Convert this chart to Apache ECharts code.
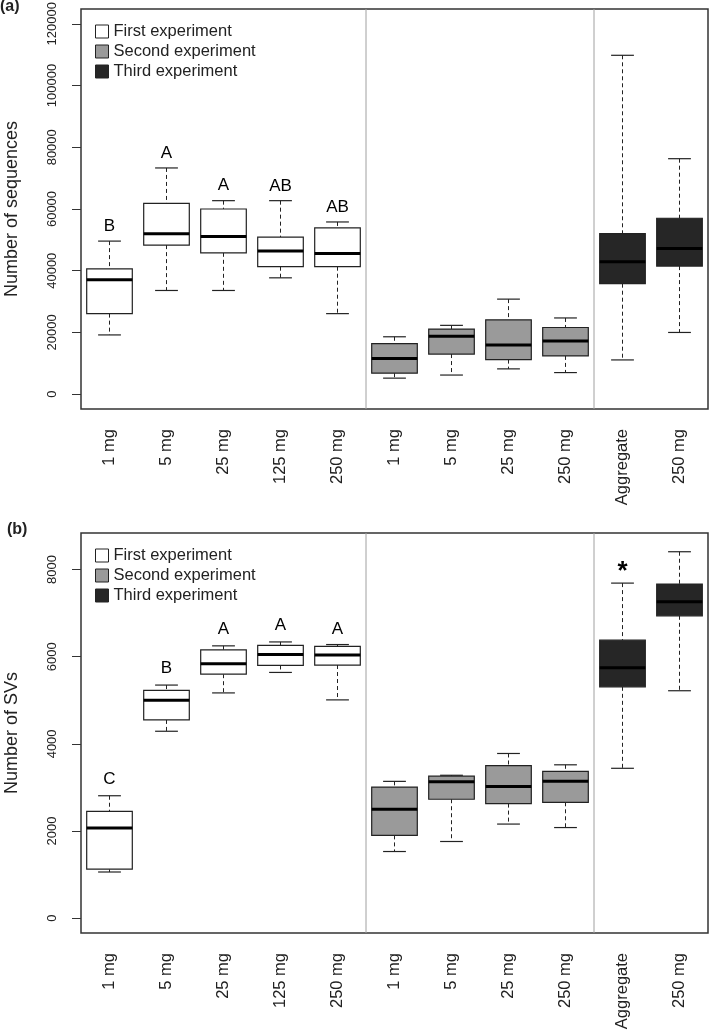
<!DOCTYPE html>
<html>
<head>
<meta charset="utf-8">
<script src="https://cdn.jsdelivr.net/npm/echarts@6/dist/echarts.min.js"></script>
<style>
  html, body { margin: 0; padding: 0; background: #fff; }
  #chart { width: 709px; height: 1031px; }
</style>
</head>
<body>
<div id="chart"></div>
<script>
// x categories, same for both panels
const categories = ['1 mg', '5 mg', '25 mg', '125 mg', '250 mg', '1 mg', '5 mg', '25 mg', '250 mg', 'Aggregate', '250 mg'];
// which experiment each box belongs to (0 first, 1 second, 2 third)
const groupOf = [0, 0, 0, 0, 0, 1, 1, 1, 1, 2, 2];
const experiments = ['First experiment', 'Second experiment', 'Third experiment'];
const fills = ['#ffffff', '#9a9a9a', '#262626'];
const dividers = [4, 8];

// (a) number of sequences
const seqMin = [19200, 33600, 33600, 37700, 26100, 5200, 6200, 8200, 7000, 11100, 20000];
const seqQ1 = [26100, 48300, 45800, 41300, 41300, 6800, 13000, 11200, 12400, 35800, 41500];
const seqMed = [37100, 52000, 51100, 46400, 45600, 11600, 18800, 15900, 17200, 42900, 47200];
const seqQ3 = [40600, 61800, 60000, 50900, 53900, 16400, 21100, 24100, 21600, 52000, 57000];
const seqMax = [49600, 73300, 62700, 62700, 55800, 18600, 22300, 30800, 24700, 109800, 76300];
const seqLetters = ['B', 'A', 'A', 'AB', 'AB', '', '', '', '', '', ''];
const seqLetterY = [54300, 78000, 67600, 67400, 60600, 0, 0, 0, 0, 0, 0];
const seqTicks = [0, 20000, 40000, 60000, 80000, 100000, 120000];

// (b) number of SVs
const svMin = [1060, 4290, 5170, 5640, 5010, 1530, 1760, 2160, 2080, 3440, 5220];
const svQ1 = [1125, 4550, 5600, 5800, 5810, 1900, 2730, 2630, 2660, 5310, 6940];
const svMed = [2070, 5000, 5840, 6050, 6040, 2500, 3130, 3020, 3140, 5750, 7260];
const svQ3 = [2450, 5230, 6160, 6260, 6240, 3010, 3260, 3500, 3370, 6380, 7670];
const svMax = [2810, 5350, 6250, 6340, 6280, 3140, 3280, 3780, 3520, 7690, 8410];
const svLetters = ['C', 'B', 'A', 'A', 'A', '', '', '', '', '*', ''];
const svLetterY = [3190, 5740, 6620, 6710, 6640, 0, 0, 0, 0, 7960, 0];
const svTicks = [0, 2000, 4000, 6000, 8000];

const FONT = 'Liberation Sans, Arial, Helvetica, sans-serif';
const INK = '#222';

function boxItem(params, api) {
  const idx = api.value(0);
  const x = api.coord([idx, 0])[0];
  const band = api.size([1, 0])[0];
  const half = band * 0.4;
  const cap = half / 2;
  const yMin = api.coord([idx, api.value(1)])[1];
  const yQ1 = api.coord([idx, api.value(2)])[1];
  const yMed = api.coord([idx, api.value(3)])[1];
  const yQ3 = api.coord([idx, api.value(4)])[1];
  const yMax = api.coord([idx, api.value(5)])[1];
  const dash = { stroke: INK, lineWidth: 1, lineDash: [4, 3] };
  const solid = { stroke: INK, lineWidth: 1.2 };
  return {
    type: 'group',
    children: [
      { type: 'line', shape: { x1: x, y1: yMax, x2: x, y2: yQ3 }, style: dash },
      { type: 'line', shape: { x1: x, y1: yQ1, x2: x, y2: yMin }, style: dash },
      { type: 'line', shape: { x1: x - cap, y1: yMax, x2: x + cap, y2: yMax }, style: solid },
      { type: 'line', shape: { x1: x - cap, y1: yMin, x2: x + cap, y2: yMin }, style: solid },
      { type: 'rect', shape: { x: x - half, y: yQ3, width: half * 2, height: yQ1 - yQ3 },
        style: { fill: api.visual('color'), stroke: INK, lineWidth: 1.2 } },
      { type: 'line', shape: { x1: x - half, y1: yMed, x2: x + half, y2: yMed }, style: { stroke: '#000', lineWidth: 3 } }
    ]
  };
}

function letterItem(params, api) {
  const p = api.coord([api.value(0), api.value(1)]);
  const txt = api.value(2);
  const star = txt === '*';
  return {
    type: 'text',
    x: p[0], y: p[1],
    style: {
      text: txt, fill: '#000', align: 'center', verticalAlign: 'middle',
      font: (star ? 'bold 26px ' : '17px ') + FONT
    }
  };
}

function dividerItem(params, api) {
  const a = api.coord([api.value(0), 0])[0];
  const b = api.coord([api.value(0) + 1, 0])[0];
  const cs = params.coordSys;
  const x = (a + b) / 2;
  return {
    type: 'line',
    shape: { x1: x, y1: cs.y, x2: x, y2: cs.y + cs.height },
    style: { stroke: '#a0a0a0', lineWidth: 1 }
  };
}

function panelSeries(panel, mins, q1s, meds, q3s, maxs, letters, letterY) {
  const out = [];
  experiments.forEach(function (name, g) {
    const data = [];
    categories.forEach(function (c, i) {
      if (groupOf[i] === g) data.push([i, mins[i], q1s[i], meds[i], q3s[i], maxs[i]]);
    });
    out.push({
      name: name, type: 'custom', xAxisIndex: panel, yAxisIndex: panel,
      itemStyle: { color: fills[g] },
      renderItem: boxItem, encode: { x: 0, y: [1, 2, 3, 4, 5] }, data: data, z: 3
    });
  });
  out.push({
    type: 'custom', xAxisIndex: panel, yAxisIndex: panel, renderItem: dividerItem,
    data: dividers.map(function (d) { return [d]; }), encode: { x: 0 }, z: 2, silent: true
  });
  const ld = [];
  letters.forEach(function (t, i) { if (t) ld.push([i, letterY[i], t]); });
  out.push({
    type: 'custom', xAxisIndex: panel, yAxisIndex: panel, renderItem: letterItem,
    data: ld, encode: { x: 0, y: 1 }, z: 4, silent: true
  });
  return out;
}

function legendFor(top) {
  return {
    orient: 'vertical', left: 90, top: top, icon: 'rect',
    itemWidth: 13, itemHeight: 13, itemGap: 3, selectedMode: false,
    textStyle: { fontSize: 16.5, color: INK, fontFamily: FONT },
    data: experiments.map(function (n, g) {
      return { name: n, itemStyle: { color: fills[g], borderColor: INK, borderWidth: 1 } };
    })
  };
}

function xAxisFor(g) {
  return {
    type: 'category', gridIndex: g, data: categories,
    axisLine: { show: false }, axisTick: { show: false },
    axisLabel: { interval: 0, rotate: 90, margin: 20, fontSize: 16.5, color: INK, fontFamily: FONT }
  };
}

function yAxisFor(g, min, max, ticks, name) {
  return {
    type: 'value', gridIndex: g, min: min, max: max,
    name: name, nameLocation: 'middle', nameRotate: 90, nameGap: 60,
    nameTextStyle: { fontSize: 18, color: INK, fontFamily: FONT },
    axisLine: { show: false },
    splitLine: { show: false },
    axisTick: { show: true, length: 9, customValues: ticks, lineStyle: { color: '#333', width: 1 } },
    axisLabel: {
      customValues: ticks, rotate: 90, margin: 22, fontSize: 13, color: INK, fontFamily: FONT,
      formatter: function (v) { return String(v); }
    }
  };
}

const chart = echarts.init(document.getElementById('chart'), null, { renderer: 'canvas' });
chart.setOption({
  animation: false,
  backgroundColor: '#fff',
  title: [
    { text: '(a)', left: 0, top: -1, padding: 0, textStyle: { fontSize: 16, fontWeight: 'bold', color: INK, fontFamily: FONT } },
    { text: '(b)', left: 7, top: 522, padding: 0, textStyle: { fontSize: 16, fontWeight: 'bold', color: INK, fontFamily: FONT } }
  ],
  legend: [legendFor(18), legendFor(542)],
  grid: [
    { left: 81, top: 9, width: 627, height: 400, show: true, borderColor: '#333', borderWidth: 1.5,
      backgroundColor: 'transparent', outerBoundsMode: 'none', containLabel: false },
    { left: 81, top: 533, width: 627, height: 400, show: true, borderColor: '#333', borderWidth: 1.5,
      backgroundColor: 'transparent', outerBoundsMode: 'none', containLabel: false }
  ],
  xAxis: [xAxisFor(0), xAxisFor(1)],
  yAxis: [
    yAxisFor(0, -4800, 124800, seqTicks, 'Number of sequences'),
    yAxisFor(1, -340, 8840, svTicks, 'Number of SVs')
  ],
  series: []
    .concat(panelSeries(0, seqMin, seqQ1, seqMed, seqQ3, seqMax, seqLetters, seqLetterY))
    .concat(panelSeries(1, svMin, svQ1, svMed, svQ3, svMax, svLetters, svLetterY))
});
</script>
</body>
</html>
